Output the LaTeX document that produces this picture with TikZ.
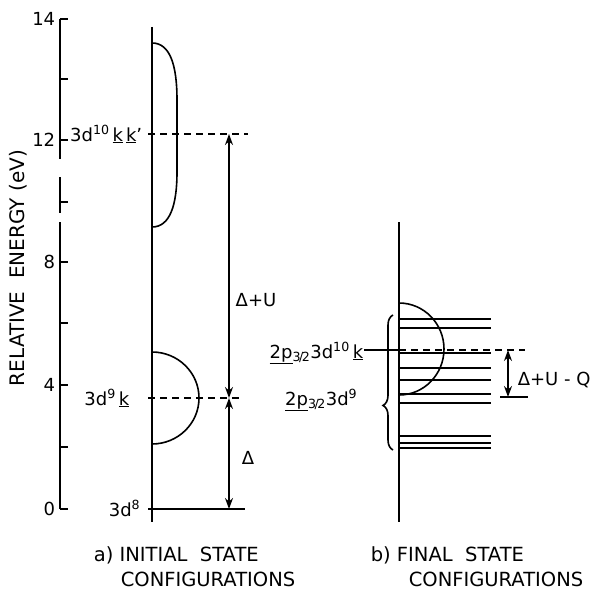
\documentclass[tikz,border=0pt]{standalone}
\usepackage{fontspec}
\setmainfont{DejaVu Sans}
\usetikzlibrary{arrows.meta, decorations.pathreplacing}
\newcommand{\hl}[1]{\underline{#1}}
\newcommand{\half}{\textsubscript{3\kern-1.5pt/\kern-1.5pt2}}

\begin{document}
\begin{tikzpicture}[x=1pt, y=-1pt, line width=1.6pt, font=\fontsize{18}{22}\selectfont]
  \tikzset{
    dashlvl/.style={line width=1.4pt, dash pattern=on 7pt off 5pt},
    gap/.style={{Stealth[length=11pt, width=8pt]}-{Stealth[length=11pt, width=8pt]}, line width=1.4pt},
    sublvl/.style={line width=1.5pt},
    state/.style={inner sep=0pt, anchor=base east},
    ticklabel/.style={inner sep=0pt, anchor=east, font=\fontsize{18}{20}\selectfont},
    caption/.style={inner sep=0pt, anchor=west, font=\fontsize{19.5}{22}\selectfont}
  }
  \useasboundingbox (0,0) rectangle (593,594);
  \draw (60,19) -- (60,159) (60,177) -- (60,213) (60,222) -- (60,509);
  \foreach \y in {19,79,140,202,262,323,385,447,509}
    \draw (60,\y) -- (68,\y);
  \foreach \y/\t in {19/14, 140/12, 262/8, 385/4, 509/0}
    \node[ticklabel] (t\t) at (56,\y) {\t};
  \node[rotate=90, inner sep=0pt, font=\fontsize{20}{22}\selectfont] (axis) at (18,268) {RELATIVE~ ENERGY (eV)};

  \coordinate (ltop) at (152,27);
  \coordinate (lbot) at (152,522);
  \draw (ltop) -- (lbot);
  \draw (152,43) .. controls (170,43) and (177,65) .. (177,100) -- (177,172)
    .. controls (177,205) and (170,227) .. (152,227);
  \draw (152,352) arc[start angle=-90, end angle=90, x radius=47, y radius=46];
  \draw (148,509) -- (245,509);
  \draw[dashlvl] (148,398) -- (240,398);
  \draw[dashlvl] (148,134) -- (248,134);
  \coordinate (u10) at (229,134);
  \coordinate (u9) at (229,398);
  \coordinate (u8) at (229,509);
  \draw[gap] (u10) -- (u9);
  \draw[gap] (u9) -- (u8);
  \node (du) at (256,300) {Δ+U};
  \node (d) at (248,458) {Δ};
  \node[state] (s10) at (143,141) {3d\textsuperscript{10}\,\hl{k}\,\hl{k}'};
  \node[state] (s9) at (130,405) {3d\textsuperscript{9}\,\hl{k}};
  \node[state] (s8) at (141,516) {3d\textsuperscript{8}};

  \coordinate (rtop) at (399,222);
  \coordinate (rbot) at (399,522);
  \draw (rtop) -- (rbot);
  \draw (399,303) arc[start angle=-90, end angle=90, x radius=45, y radius=46];
  \foreach \y in {319,328,353,368,380,394,403,436,443,448}
    \draw[sublvl] (399,\y) -- (491,\y);
  \draw[dashlvl] (399,350) -- (525,350);
  \coordinate (r10) at (399,350);
  \coordinate (q1) at (508,350);
  \coordinate (q2) at (508,397);
  \draw[gap] (q1) -- (q2);
  \draw (500,397) -- (528,397);
  \node[anchor=west, inner sep=0pt] (duq) at (517,380) {Δ+U - Q};
  \draw[decorate, decoration={brace, amplitude=10pt, aspect=0.33}] (393,450) -- (393,315);
  \node[state] (f10) at (364,358) {\hl{2p}\half3d\textsuperscript{10}\,\hl{k}};
  \node[state] (f9) at (358,405) {\hl{2p}\half3d\textsuperscript{9}};
  \draw (f10.east |- r10) -- (r10);

  \node[caption] (capa1) at (93,555) {a) INITIAL~~STATE};
  \node[caption] (capa2) at (120,579) {CONFIGURATIONS};
  \node[caption] (capb1) at (370,555) {b) FINAL~~STATE};
  \node[caption] (capb2) at (408,579) {CONFIGURATIONS};
\end{tikzpicture}
\end{document}
